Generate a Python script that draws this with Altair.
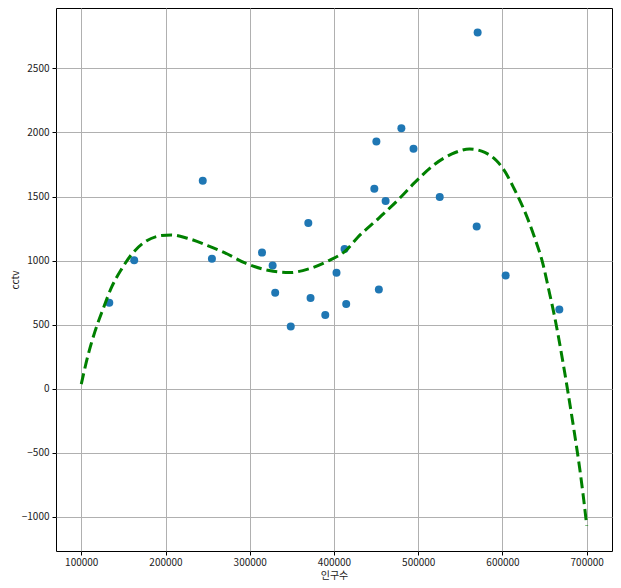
import altair as alt
import pandas as pd

# Seoul districts: population (인구수) vs CCTV count
population = [570500, 453233, 330192, 603772, 525515, 372164, 447874, 255082,
              569384, 348646, 369496, 412520, 389649, 327163, 450310, 314551,
              461260, 667483, 479978, 402985, 244203, 494388, 162820, 133240,
              414503]
cctv = [2780, 773, 748, 884, 1496, 707, 1561, 1015,
        1265, 485, 1294, 1091, 574, 962, 1930, 1062,
        1464, 618, 2034, 904, 1624, 1873, 1002, 671,
        660]

# Fitted curve
curve_x = [100000, 108000, 116000, 126000, 136000, 148000, 160000, 175000,
           195000, 207000, 226000, 250000, 270000, 295000, 323000, 347000,
           370000, 394000, 414000, 428000, 453000, 477000, 496000, 520000,
           540000, 561000, 579000, 593000, 601000, 614000, 626000, 638000,
           648000, 655000, 662000, 670000, 678000, 685500, 691400, 696500,
           700000]
curve_y = [35, 260, 441, 624, 792, 935, 1050, 1143,
           1195, 1200, 1174, 1117, 1062, 979, 922, 906,
           935, 1000, 1078, 1180, 1330, 1480, 1610, 1754,
           1832, 1871, 1844, 1779, 1715, 1559, 1390, 1182,
           974, 770, 558, 273, -39, -351, -611, -871,
           -1070]

x_ticks = [100000, 200000, 300000, 400000, 500000, 600000, 700000]
y_ticks = [-1000, -500, 0, 500, 1000, 1500, 2000, 2500]

pts = pd.DataFrame({"pop": population, "cctv": cctv})
line = pd.DataFrame({"pop": curve_x, "cctv": curve_y})

FONT = "Noto Sans CJK KR"

xs = alt.Scale(domain=[70000, 730000], nice=False, zero=False)
ys = alt.Scale(domain=[-1268, 2972], nice=False, zero=False)

xax = alt.Axis(values=x_ticks, format="d", title="인구수", labelPadding=2,
               titleY=27, titleBaseline="alphabetic")
yax = alt.Axis(values=y_ticks, format="d", title="cctv", titlePadding=1)

scatter = alt.Chart(pts).mark_circle(size=64, color="#1f77b4", opacity=1).encode(
    x=alt.X("pop:Q", scale=xs, axis=xax),
    y=alt.Y("cctv:Q", scale=ys, axis=yax),
)

fit = alt.Chart(line).mark_line(
    color="green", strokeWidth=3, strokeDash=[11, 5], interpolate="monotone"
).encode(
    x=alt.X("pop:Q", scale=xs),
    y=alt.Y("cctv:Q", scale=ys),
)

chart = alt.layer(scatter, fit).properties(
    width=556,
    height=543,
    autosize=alt.AutoSizeParams(type="none"),
    padding={"left": 48, "top": 0, "right": 1, "bottom": 29},
).configure_view(
    stroke="black", strokeWidth=1
).configure_axis(
    grid=True,
    gridColor="#b0b0b0",
    gridWidth=1,
    domain=False,
    tickColor="black",
    tickSize=4,
    tickWidth=1,
    labelFont=FONT,
    labelFontSize=10,
    labelColor="#222222",
    labelPadding=3,
    titleFont=FONT,
    titleFontSize=10,
    titleFontWeight="normal",
    titleColor="#222222",
)

chart.save("out.html", embed_options={"renderer": "svg", "actions": False})
